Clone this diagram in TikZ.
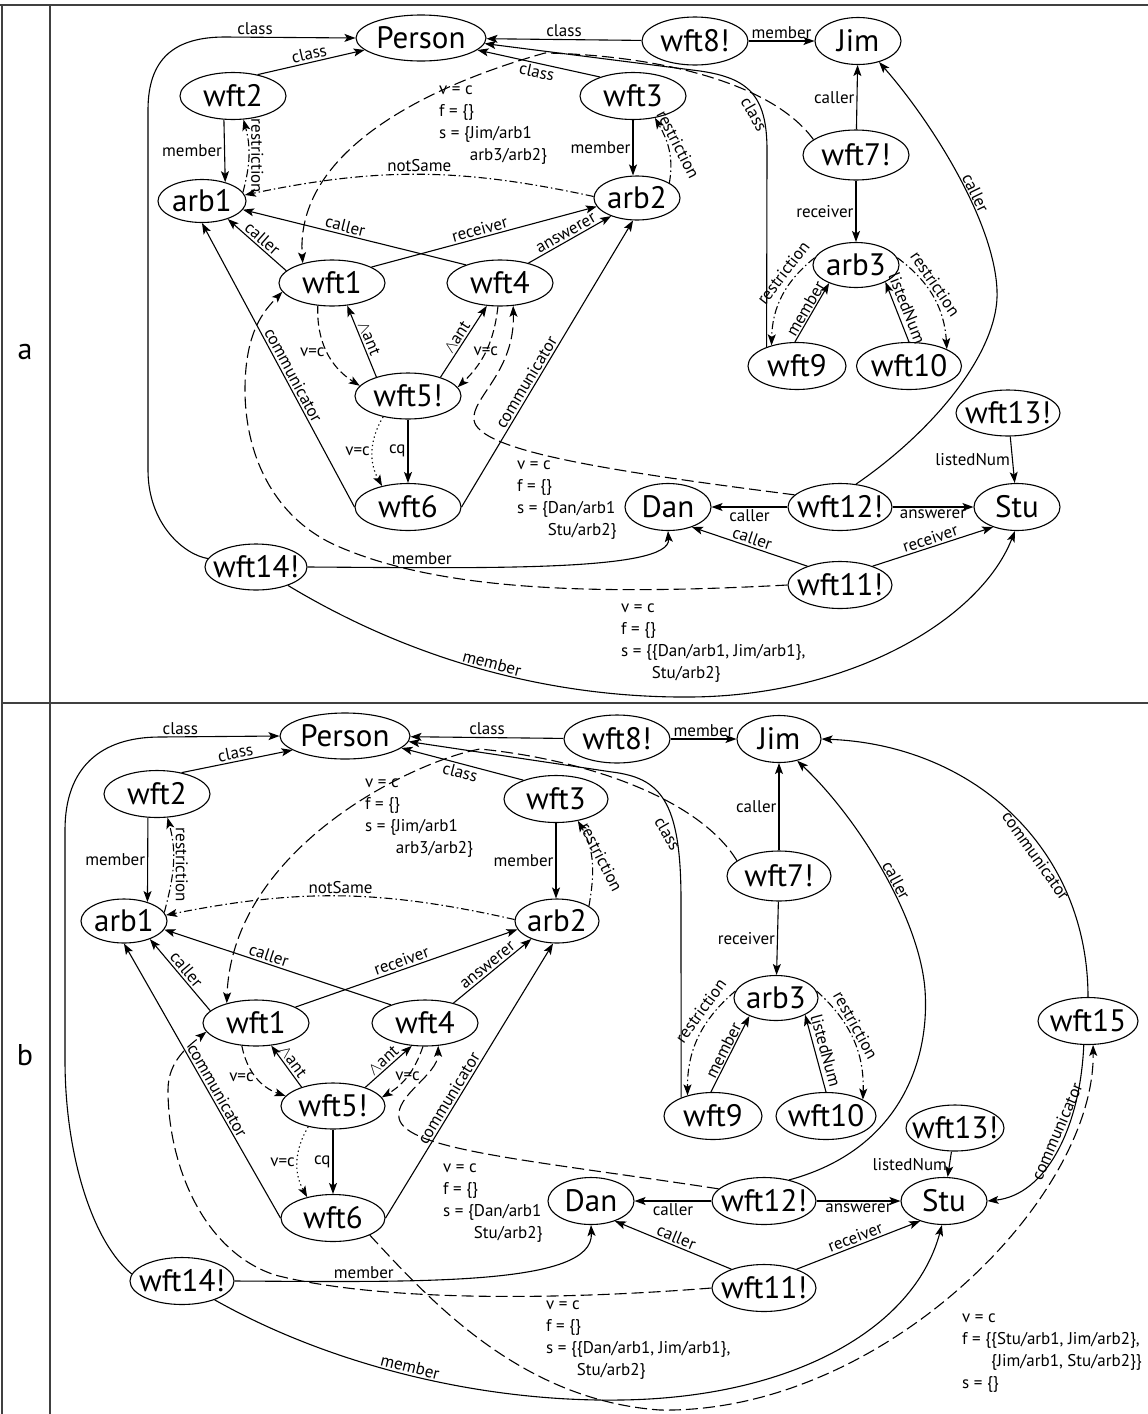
\documentclass[tikz,border=0pt]{standalone}
\usepackage{fontspec}
\setmainfont{PT Sans}
\usetikzlibrary{arrows.meta,shapes.geometric}
\newcommand\nt[1]{\makebox[0pt]{#1}}
\newcommand\antlbl{$\wedge$ant}
\begin{document}
\begin{tikzpicture}[x=1pt,y=1pt,
  nd/.style={ellipse, draw, line width=1.1pt, inner sep=0pt, text height=21pt, text depth=0pt, font=\fontsize{31}{32}\selectfont},
  lb/.style={font=\fontsize{17}{19}\selectfont, inner sep=2pt},
  ann/.style={font=\fontsize{17}{22}\selectfont, anchor=base west, inner sep=0pt},
  ed/.style={line width=1.1pt, -{Stealth[length=11pt,width=8pt,inset=2.5pt]}},
  dl/.style={ed, dash pattern=on 12pt off 5pt},
  ds/.style={ed, dash pattern=on 8pt off 4pt},
  dd/.style={ed, dash pattern=on 8pt off 3pt on 1.5pt off 3pt},
  dt/.style={ed, dash pattern=on 1.3pt off 3pt},
  frm/.style={line width=1.6pt, draw=black!75},
  pl/.style={font=\fontsize{30}{30}\selectfont}
]
\useasboundingbox (0,0) rectangle (1148,-1414);
% frame
\draw[frm] (0,-5) -- (1148,-5);
\draw[frm] (2,-5) -- (2,-1414);
\draw[frm] (50,-5) -- (50,-1414);
\draw[frm] (2,-703) -- (1148,-703);
\node[pl] (pa) at (25,-352) {a};
\node[pl] (pb) at (25,-1055) {b};

% ================= PANEL A =================
\node[nd, minimum width=130, minimum height=46] (aPerson) at (421,-38) {\nt{Person}};
\node[nd, minimum width=106, minimum height=48] (awft8) at (695,-41) {\nt{wft8!}};
\node[nd, minimum width=86, minimum height=47] (aJim) at (858,-41) {\nt{Jim}};
\node[nd, minimum width=106, minimum height=47] (awft2) at (233,-96) {\nt{wft2}};
\node[nd, minimum width=106, minimum height=47] (awft3) at (633,-96) {\nt{wft3}};
\node[nd, minimum width=106, minimum height=50] (awft7) at (856,-155) {\nt{wft7!}};
\node[nd, minimum width=88, minimum height=43] (aarb1) at (202,-201) {\nt{arb1}};
\node[nd, minimum width=86, minimum height=44] (aarb2) at (637,-198) {\nt{arb2}};
\node[nd, minimum width=86, minimum height=45] (aarb3) at (856,-265) {\nt{arb3}};
\node[nd, minimum width=106, minimum height=46] (awft1) at (332,-283) {\nt{wft1}};
\node[nd, minimum width=106, minimum height=46] (awft4) at (500,-283) {\nt{wft4}};
\node[nd, minimum width=106, minimum height=46] (awft5) at (408,-396) {\nt{wft5!}};
\node[nd, minimum width=98, minimum height=47] (awft9) at (797,-366) {\nt{wft9}};
\node[nd, minimum width=105, minimum height=47] (awft10) at (909,-366) {\nt{wft10}};
\node[nd, minimum width=104, minimum height=46] (awft13) at (1008,-413) {\nt{wft13!}};
\node[nd, minimum width=106, minimum height=47] (awft6) at (408,-507) {\nt{wft6}};
\node[nd, minimum width=86, minimum height=47] (aDan) at (668,-507) {\nt{Dan}};
\node[nd, minimum width=104, minimum height=47] (awft12) at (840,-507) {\nt{wft12!}};
\node[nd, minimum width=86, minimum height=47] (aStu) at (1017,-507) {\nt{Stu}};
\node[nd, minimum width=102, minimum height=46] (awft14) at (256,-567) {\nt{wft14!}};
\node[nd, minimum width=104, minimum height=47] (awft11) at (840,-585) {\nt{wft11!}};

\node[ann] (aA1) at (439,-94) {\vtop{\hbox{v = c}\hbox{f = \{\}}\hbox{s = \{Jim/arb1}\hbox{\phantom{s = \{}arb3/arb2\}}}};
\node[ann] (aA2) at (517,-469) {\vtop{\hbox{v = c}\hbox{f = \{\}}\hbox{s = \{Dan/arb1}\hbox{\phantom{s = \{}Stu/arb2\}}}};
\node[ann] (aA3) at (621,-612) {\vtop{\hbox{v = c}\hbox{f = \{\}}\hbox{s = \{\{Dan/arb1, Jim/arb1\},}\hbox{\phantom{s = \{}Stu/arb2\}}}};

% class edges
\draw[ed] (awft14.170) .. controls (185,-555) and (148,-525) .. (148,-470) -- (148,-110) .. controls (148,-58) and (175,-37) .. (225,-37) -- node[lb, pos=0.23, above]{class} (aPerson.west);
\draw[ed] (awft2.41) -- node[lb, sloped, above]{class} (aPerson.192);
\draw[ed] (awft8) -- node[lb, above]{class} (aPerson);
\draw[ed] (awft3.150) -- node[lb, sloped, below]{class} (aPerson.-12);
\draw[ed] (awft9.148) -- (767,-150) .. controls (767,-95) and (748,-78) .. (700,-71) node[lb, pos=0.3, rotate=-60, anchor=north]{class} -- (aPerson.-5);
\draw[dl] (awft7.160) .. controls (770,-80) and (650,-55) .. (545,-53) .. controls (430,-85) and (295,-150) .. (awft1.146);

\draw[ed] (awft8) -- node[lb, above]{member} (aJim);
\draw[ed] (awft7) -- node[lb, left]{caller} (aJim);
\draw[ed] (awft7) -- node[lb, left]{receiver} (aarb3);

\draw[ed] (awft2.-111) -- node[lb, left]{member} (aarb1.39);
\draw[dd] (aarb1.12) to[out=75,in=-75] node[lb, rotate=-90, anchor=south]{restriction} (awft2.-66);
\draw[ed] (awft3.south) -- node[lb, left]{member} (awft3.south |- aarb2.north);
\draw[dd] (aarb2.25) to[out=80,in=-60] node[lb, rotate=-63, anchor=south, inner sep=4pt]{restriction} (awft3.-45);
\draw[dd] (aarb2.178) to[bend right=12] node[lb, above]{notSame} (aarb1.8);

\draw[ed] (awft1.165) -- node[lb, sloped, above]{caller} (aarb1.-35);
\draw[ed] (awft4.152) -- node[lb, pos=0.55, sloped, above]{caller} (aarb1.-12);
\draw[ed] (awft1.22) -- node[lb, pos=0.49, sloped, above]{receiver} (aarb2.192);
\draw[ed] (awft4.35) -- node[lb, sloped, above]{answerer} (aarb2.-145);
\draw[ed] (awft6.180) -- node[lb, pos=0.45, sloped, above]{communicator} (aarb1.-90);
\draw[ed] (awft6.0) -- node[lb, pos=0.42, sloped, above]{communicator} (aarb2.-100);

\draw[ds] (awft1.-122) to[bend right=30] node[lb, left]{v=c} (awft5.168);
\draw[ed] (awft5.149) -- node[lb, sloped, above]{\antlbl} (awft1.-56);
\draw[ed] (awft5.30) -- node[lb, sloped, above]{\antlbl} (awft4.-120);
\draw[ds] (awft4.-95) to[bend left=20] node[lb, inner sep=0pt]{v=c} (awft5.10);
\draw[ed] (awft5) -- node[lb, left]{cq} (awft6);
\draw[dt] (awft5.-140) to[bend right=30] node[lb, left]{v=c} (awft6.141);

\draw[ed] (awft9.95) -- node[lb, pos=0.5, sloped, above, inner sep=1pt]{member} (aarb3.-146);
\draw[ed] (awft10.north) -- node[lb, sloped, above, inner sep=4pt]{listedNum} (aarb3.-30);
\draw[dd] (aarb3.170) to[bend right=25] node[lb, pos=0.3, sloped, above, inner sep=5pt]{restriction} (awft9.141);
\draw[dd] (aarb3.10) to[bend left=25] node[lb, pos=0.4, sloped, above, inner sep=2pt]{restriction} (awft10.24);

\draw[dl] (awft12.165) .. controls (600,-470) and (478,-450) .. (474,-420) .. controls (471,-398) and (515,-372) .. (awft4.-60);
\draw[dl] (awft11.west) .. controls (600,-595) and (440,-592) .. (335,-545) .. controls (270,-515) and (245,-450) .. (245,-390) .. controls (245,-330) and (265,-310) .. (awft1.190);

\draw[ed] (awft12.55) .. controls (935,-430) and (1000,-350) .. (997,-290) .. controls (994,-220) and (930,-120) .. (aJim.-45) node[lb, pos=0.4, sloped, above, inner sep=1pt]{caller};
\draw[ed] (awft12) -- node[lb, below]{caller} (aDan);
\draw[ed] (awft12) -- node[lb, below]{answerer} (aStu);
\draw[ed] (awft11.150) -- node[lb, sloped, above]{caller} (aDan.-40);
\draw[ed] (awft11.30) -- node[lb, sloped, above]{receiver} (aStu.-140);
\draw[ed] (awft13) -- node[lb, left]{listedNum} (aStu);
\draw[ed] (awft14.east) .. controls (480,-568) and (671,-572) .. (aDan.south) node[lb, pos=0.22, above]{member};
\draw[ed] (awft14.-30) .. controls (420,-665) and (560,-698) .. (690,-697) node[lb, pos=0.5, sloped, above]{member} .. controls (850,-696) and (980,-620) .. (aStu.-95);

% ================= PANEL B =================
\node[nd, minimum width=130, minimum height=46] (bPerson) at (345,-736) {\nt{Person}};
\node[nd, minimum width=106, minimum height=48] (bwft8) at (617,-739) {\nt{wft8!}};
\node[nd, minimum width=84, minimum height=47] (bJim) at (779,-739) {\nt{Jim}};
\node[nd, minimum width=106, minimum height=47] (bwft2) at (157,-794) {\nt{wft2}};
\node[nd, minimum width=104, minimum height=47] (bwft3) at (556,-799) {\nt{wft3}};
\node[nd, minimum width=104, minimum height=50] (bwft7) at (779,-876) {\nt{wft7!}};
\node[nd, minimum width=86, minimum height=44] (barb1) at (124,-921) {\nt{arb1}};
\node[nd, minimum width=84, minimum height=44] (barb2) at (557,-921) {\nt{arb2}};
\node[nd, minimum width=84, minimum height=45] (barb3) at (776,-998) {\nt{arb3}};
\node[nd, minimum width=106, minimum height=46] (bwft1) at (256,-1023) {\nt{wft1}};
\node[nd, minimum width=106, minimum height=46] (bwft4) at (425,-1023) {\nt{wft4}};
\node[nd, minimum width=100, minimum height=47] (bwft15) at (1088,-1021) {\nt{wft15}};
\node[nd, minimum width=104, minimum height=46] (bwft5) at (333,-1106) {\nt{wft5!}};
\node[nd, minimum width=98, minimum height=47] (bwft9) at (713,-1116) {\nt{wft9}};
\node[nd, minimum width=100, minimum height=47] (bwft10) at (826,-1116) {\nt{wft10}};
\node[nd, minimum width=98, minimum height=46] (bwft13) at (955,-1128) {\nt{wft13!}};
\node[nd, minimum width=104, minimum height=47] (bwft6) at (333,-1218) {\nt{wft6}};
\node[nd, minimum width=86, minimum height=47] (bDan) at (591,-1201) {\nt{Dan}};
\node[nd, minimum width=104, minimum height=47] (bwft12) at (764,-1201) {\nt{wft12!}};
\node[nd, minimum width=86, minimum height=47] (bStu) at (944,-1201) {\nt{Stu}};
\node[nd, minimum width=104, minimum height=47] (bwft14) at (182,-1281) {\nt{wft14!}};
\node[nd, minimum width=104, minimum height=47] (bwft11) at (764,-1288) {\nt{wft11!}};

\node[ann] (bA1) at (365,-787) {\vtop{\hbox{v = c}\hbox{f = \{\}}\hbox{s = \{Jim/arb1}\hbox{\phantom{s = \{}arb3/arb2\}}}};
\node[ann] (bA2) at (443,-1172) {\vtop{\hbox{v = c}\hbox{f = \{\}}\hbox{s = \{Dan/arb1}\hbox{\phantom{s = \{}Stu/arb2\}}}};
\node[ann] (bA3) at (546,-1309) {\vtop{\hbox{v = c}\hbox{f = \{\}}\hbox{s = \{\{Dan/arb1, Jim/arb1\},}\hbox{\phantom{s = \{}Stu/arb2\}}}};
\node[ann] (bA4) at (962,-1322) {\vtop{\hbox{v = c}\hbox{f = \{\{Stu/arb1, Jim/arb2\},}\hbox{\phantom{f = \{}\{Jim/arb1, Stu/arb2\}\}}\hbox{s = \{\}}}};

\draw[ed] (bwft14.172) .. controls (95,-1245) and (65,-1160) .. (65,-1060) -- (65,-830) .. controls (65,-768) and (100,-737) .. (160,-737) -- node[lb, pos=0.17, above]{class} (bPerson.west);
\draw[ed] (bwft2.41) -- node[lb, sloped, above]{class} (bPerson.195);
\draw[ed] (bwft8) -- node[lb, above]{class} (bPerson);
\draw[ed] (bwft3.150) -- node[lb, sloped, below]{class} (bPerson.-12);
\draw[ed] (bwft9.150) -- (681,-900) .. controls (681,-800) and (660,-778) .. (612,-772) node[lb, pos=0.3, rotate=-60, anchor=north]{class} -- (bPerson.-5);
\draw[dl] (bwft7.160) .. controls (700,-800) and (590,-760) .. (480,-749) .. controls (410,-762) and (232,-850) .. (bwft1.146);

\draw[ed] (bwft8) -- node[lb, above]{member} (bJim);
\draw[ed] (bwft7) -- node[lb, left]{caller} (bJim);
\draw[ed] (bwft7) -- node[lb, left]{receiver} (barb3);

\draw[ed] (bwft2.-111) -- node[lb, left]{member} (barb1.39);
\draw[dd] (barb1.12) to[out=75,in=-75] node[lb, rotate=-90, anchor=south]{restriction} (bwft2.-66);
\draw[ed] (bwft3.south) -- node[lb, left]{member} (bwft3.south |- barb2.north);
\draw[dd] (barb2.25) to[out=80,in=-60] node[lb, rotate=-63, anchor=south, inner sep=4pt]{restriction} (bwft3.-45);
\draw[dd] (barb2.178) to[bend right=12] node[lb, above]{notSame} (barb1.8);

\draw[ed] (bwft1.165) -- node[lb, sloped, above]{caller} (barb1.-35);
\draw[ed] (bwft4.152) -- node[lb, pos=0.55, sloped, above]{caller} (barb1.-12);
\draw[ed] (bwft1.22) -- node[lb, pos=0.49, sloped, above]{receiver} (barb2.192);
\draw[ed] (bwft4.35) -- node[lb, sloped, above]{answerer} (barb2.-145);
\draw[ed] (bwft6.180) -- node[lb, pos=0.45, sloped, above]{communicator} (barb1.-90);
\draw[ed] (bwft6.0) -- node[lb, pos=0.42, sloped, above]{communicator} (barb2.-100);

\draw[ds] (bwft1.-122) to[bend right=30] node[lb, left]{v=c} (bwft5.168);
\draw[ed] (bwft5.149) -- node[lb, sloped, above]{\antlbl} (bwft1.-56);
\draw[ed] (bwft5.30) -- node[lb, sloped, above]{\antlbl} (bwft4.-120);
\draw[ds] (bwft4.-95) to[bend left=20] node[lb, inner sep=0pt]{v=c} (bwft5.10);
\draw[ed] (bwft5) -- node[lb, left]{cq} (bwft6);
\draw[dt] (bwft5.-140) to[bend right=30] node[lb, left]{v=c} (bwft6.141);

\draw[ed] (bwft9.95) -- node[lb, pos=0.5, sloped, above, inner sep=1pt]{member} (barb3.-146);
\draw[ed] (bwft10.north) -- node[lb, sloped, above, inner sep=4pt]{listedNum} (barb3.-30);
\draw[dd] (barb3.170) to[bend right=25] node[lb, pos=0.3, sloped, above, inner sep=5pt]{restriction} (bwft9.141);
\draw[dd] (barb3.10) to[bend left=25] node[lb, pos=0.4, sloped, above, inner sep=2pt]{restriction} (bwft10.24);

\draw[dl] (bwft12.165) .. controls (530,-1160) and (405,-1150) .. (399,-1118) .. controls (395,-1095) and (438,-1075) .. (bwft4.-60);
\draw[dl] (bwft11.west) .. controls (560,-1300) and (380,-1302) .. (275,-1275) .. controls (200,-1250) and (168,-1160) .. (168,-1090) .. controls (168,-1060) and (190,-1045) .. (bwft1.190);
\draw[dl] (bwft6.-25) .. controls (430,-1300) and (520,-1400) .. (660,-1410) .. controls (880,-1414) and (1095,-1200) .. (bwft15.-78);

\draw[ed] (bwft12.40) .. controls (900,-1150) and (930,-1060) .. (925,-990) .. controls (920,-920) and (860,-820) .. (bJim.-50) node[lb, pos=0.45, sloped, above, inner sep=1pt]{caller};
\draw[ed] (bwft12) -- node[lb, below]{caller} (bDan);
\draw[ed] (bwft12) -- node[lb, below]{answerer} (bStu);
\draw[ed] (bwft11.150) -- node[lb, sloped, above]{caller} (bDan.-40);
\draw[ed] (bwft11.30) -- node[lb, sloped, above]{receiver} (bStu.-140);
\draw[ed] (bwft13) -- node[lb, left]{listedNum} (bStu);
\draw[ed] (bwft14.east) .. controls (420,-1282) and (594,-1286) .. (bDan.south) node[lb, pos=0.24, above]{member};
\draw[ed] (bwft14.-30) .. controls (330,-1365) and (480,-1402) .. (620,-1400) node[lb, pos=0.5, sloped, above]{member} .. controls (790,-1398) and (914,-1330) .. (bStu.-95);

\draw[ed] (bwft15.north) .. controls (1088,-850) and (975,-745) .. (bJim.east) node[lb, pos=0.38, sloped, below]{communicator};
\draw[ed] (bwft15.-100) .. controls (1080,-1130) and (1045,-1195) .. (bStu.east) node[lb, pos=0.4, sloped, above]{communicator};
\end{tikzpicture}
\end{document}
